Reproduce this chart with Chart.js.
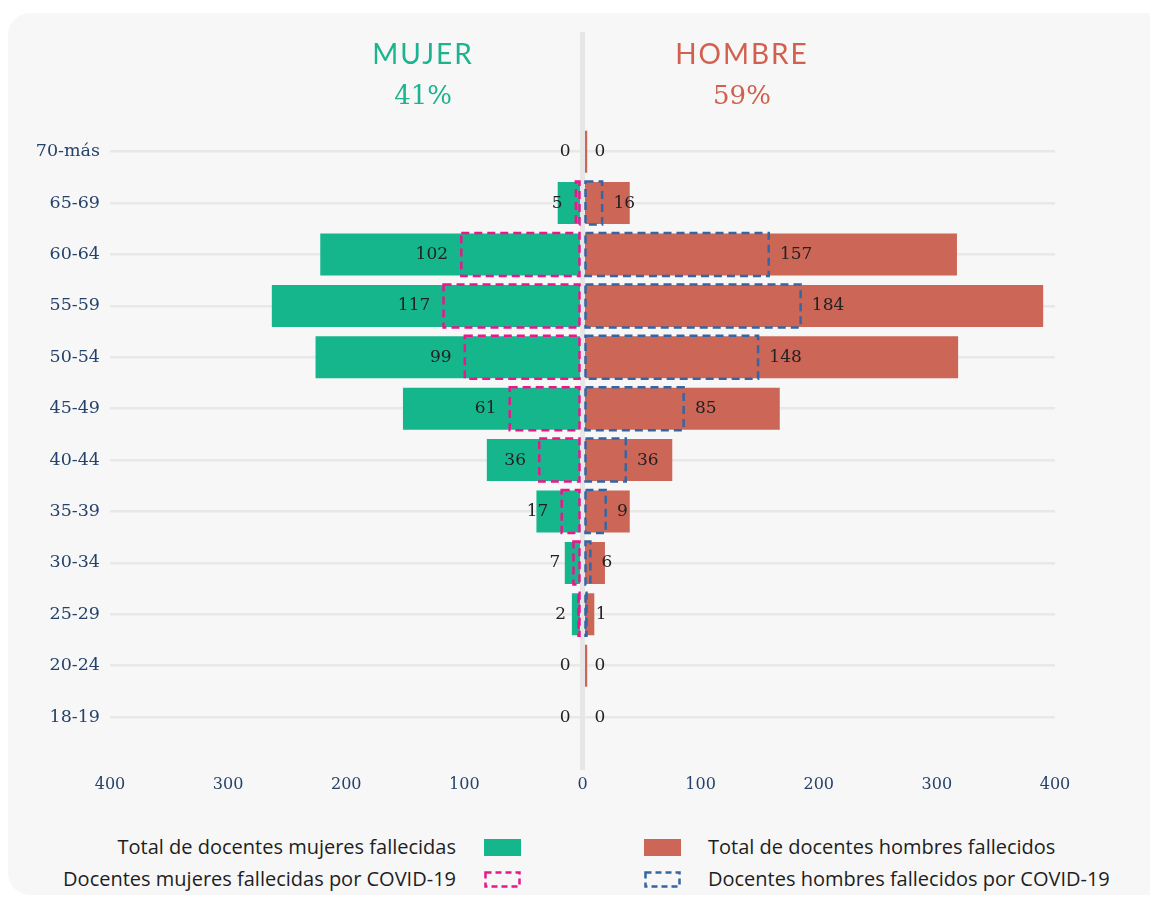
<!DOCTYPE html>
<html>
<head>
<meta charset="utf-8">
<script src="https://cdn.jsdelivr.net/npm/chart.js@4/dist/chart.umd.min.js"></script>
<style>
body { margin: 0; background: #fff; width: 1150px; height: 898px; overflow: hidden; position: relative; }
#panel { position: absolute; left: 8px; top: 13px; width: 1170px; height: 882px; background: #f7f7f7; border-radius: 22px; }
#wrap { position: absolute; left: 0; top: 0; width: 1150px; height: 830px; }
.lg-text { position: absolute; font-family: "Open Sans", sans-serif; font-size: 20px; color: #1e1e1e; line-height: 24px; white-space: nowrap; }
.lg-box { position: absolute; width: 37px; height: 17px; }
</style>
</head>
<body>
<div id="panel"></div>
<div id="wrap"><canvas id="chart"></canvas></div>
<div id="legend"></div>
<script>
let ageGroups = ["70-más", "65-69", "60-64", "55-59", "50-54", "45-49", "40-44", "35-39", "30-34", "25-29", "20-24", "18-19"];
let totalMujeres = [0, 21, 222, 263, 226, 152, 81, 39, 15, 9, 0, 0];
let totalHombres = [4, 40, 317, 390, 318, 167, 76, 40, 19, 10, 4, 0];
// COVID bars as drawn in the picture
let covidMujeres = [0, 5, 102, 117, 99, 61, 36, 17, 7, 2, 0, 0];
let covidHombres = [0, 16, 157, 184, 148, 85, 36, 19, 6, 1, 0, 0];
// value labels as printed next to the COVID bars
let covidMujeresLabels = ["0", "5", "102", "117", "99", "61", "36", "17", "7", "2", "0", "0"];
let covidHombresLabels = ["0", "16", "157", "184", "148", "85", "36", "9", "6", "1", "0", "0"];
let xTicks = [-400, -300, -200, -100, 0, 100, 200, 300, 400];
let sexTitles = ["MUJER", "HOMBRE"];
let sexShares = ["41%", "59%"];
let legendLabels = ["Total de docentes mujeres fallecidas", "Total de docentes hombres fallecidos",
    "Docentes mujeres fallecidas por COVID-19", "Docentes hombres fallecidos por COVID-19"];

let green = "#16b68d";
let red = "#cc6656";
let pink = "#ea168b";
let blue = "#3566a4";
let navy = "#24426a";

let context = document.getElementById("chart").getContext("2d");

let extras = {
    id: "extras",
    afterDatasetsDraw(chart) {
        let ctx = chart.ctx;
        let x = chart.scales.x;
        let x0 = x.getPixelForValue(0);
        ctx.save();
        // center line
        ctx.fillStyle = "#e6e6e6";
        ctx.fillRect(x0 - 2.5, 32, 5, 738);

        // dashed covid boxes + labels
        [2, 3].forEach(di => {
            let meta = chart.getDatasetMeta(di);
            let ds = chart.data.datasets[di];
            let female = di === 2;
            meta.data.forEach((bar, i) => {
                let p = bar.getProps(["x", "y", "base", "height"], true);
                let v = ds.data[i];
                let top = p.y - p.height / 2 - 0.5;
                let h = p.height + 1;
                if (Math.abs(v) > 0) {
                    let left, right;
                    if (female) {
                        right = p.base - 3;
                        left = Math.min(p.x - 0.75, right - 1);
                    } else {
                        left = p.base + 3;
                        right = Math.max(p.x + 0.75, left + 1);
                    }
                    ctx.strokeStyle = ds.dashColor;
                    ctx.lineWidth = 2.5;
                    ctx.setLineDash([8, 5]);
                    ctx.strokeRect(left, top, right - left, h);
                }
                ctx.setLineDash([]);
                ctx.fillStyle = "#222";
                ctx.font = "17px 'DejaVu Serif'";
                ctx.textBaseline = "middle";
                ctx.textAlign = female ? "right" : "left";
                let off = v === 0 ? 12 : (female ? 14 : 12);
                ctx.fillText(ds.valueLabels[i], female ? p.x - off : p.x + off, p.y);
            });
        });

        // titles
        ctx.textAlign = "center";
        ctx.textBaseline = "middle";
        [-135, 135].forEach((pos, i) => {
            let cx = x.getPixelForValue(pos);
            ctx.fillStyle = i === 0 ? "#1bb48e" : "#d2604f";
            ctx.font = "28px Lato";
            ctx.letterSpacing = "2px";
            ctx.fillText(sexTitles[i], cx, 55);
            ctx.letterSpacing = "0px";
            ctx.font = "26px 'DejaVu Serif'";
            ctx.fillText(sexShares[i], cx, 97);
        });
        ctx.restore();
    }
};

let chart = new Chart(context, {
    type: "bar",
    data: {
        labels: ageGroups,
        datasets: [
            { label: legendLabels[0], data: totalMujeres.map(v => -v), backgroundColor: green },
            { label: legendLabels[1], data: totalHombres, backgroundColor: red },
            { label: legendLabels[2], data: covidMujeres.map(v => -v), backgroundColor: "rgba(0,0,0,0)",
                dashColor: pink, valueLabels: covidMujeresLabels },
            { label: legendLabels[3], data: covidHombres, backgroundColor: "rgba(0,0,0,0)",
                dashColor: blue, valueLabels: covidHombresLabels }
        ]
    },
    options: {
        indexAxis: "y",
        responsive: true,
        maintainAspectRatio: false,
        animation: false,
        datasets: {
            bar: { grouped: false, categoryPercentage: 1, barPercentage: 0.818, borderWidth: 0 }
        },
        layout: { padding: { left: 0, right: 95, top: 126, bottom: 4 } },
        plugins: {
            legend: { display: false },
            tooltip: { enabled: false }
        },
        scales: {
            x: {
                min: -400,
                max: 400,
                afterBuildTicks: s => { s.ticks = xTicks.map(v => ({ value: v })); },
                ticks: {
                    callback: v => Math.abs(v),
                    color: navy,
                    font: { family: "'DejaVu Serif'", size: 16 },
                    padding: 32,
                    maxRotation: 0
                },
                grid: { display: false, drawTicks: false },
                border: { display: false }
            },
            y: {
                afterFit: s => { s.width = 110; },
                ticks: {
                    color: navy,
                    font: { family: "'DejaVu Serif'", size: 17.5 },
                    padding: 10
                },
                grid: { offset: false, color: "#e8e8e8", lineWidth: 2.5, drawTicks: false },
                border: { display: false }
            }
        }
    },
    plugins: [extras]
});

// legend
let legend = document.getElementById("legend");
let rows = [847, 879];
legendLabels.forEach((txt, i) => {
    let row = rows[Math.floor(i / 2)];
    let female = i % 2 === 0;
    let t = document.createElement("div");
    t.className = "lg-text";
    t.textContent = txt;
    t.style.top = (row - 12) + "px";
    if (female) {
        t.style.left = "0px";
        t.style.width = "456px";
        t.style.textAlign = "right";
    } else {
        t.style.left = "708px";
    }
    legend.appendChild(t);

    let b = document.createElement("div");
    b.className = "lg-box";
    b.style.left = (female ? 484 : 644) + "px";
    b.style.top = (row - 8) + "px";
    let ds = chart.data.datasets[i];
    if (i < 2) {
        b.style.background = ds.backgroundColor;
    } else {
        b.innerHTML = '<svg width="37" height="17"><rect x="1.5" y="1.5" width="34" height="14" fill="none" stroke="' +
            ds.dashColor + '" stroke-width="2.5" stroke-dasharray="6 4"/></svg>';
    }
    legend.appendChild(b);
});
</script>
</body>
</html>
